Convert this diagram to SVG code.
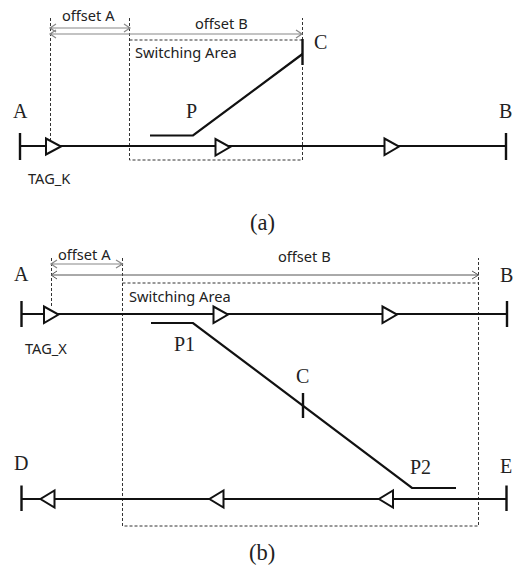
<svg xmlns="http://www.w3.org/2000/svg" width="516" height="566" viewBox="0 0 516 566">
<style>
.t{fill:#fff;stroke:#111;stroke-width:2}
.m{fill:none;stroke:#111;stroke-width:2.2}
.k{fill:none;stroke:#111;stroke-width:2.4}
.d{fill:none;stroke:#333;stroke-width:1;stroke-dasharray:3 2}
.a{fill:none;stroke:#888;stroke-width:1.2}
.b{fill:none;stroke:#555;stroke-width:1}
.s{font-family:"Noto Sans","Open Sans",sans-serif;font-size:14.6px;fill:#222}
.r{font-family:"Liberation Serif",serif;font-size:20px;fill:#222}
.c{font-family:"Liberation Serif",serif;font-size:22.500px;fill:#222}
</style>
<rect width="516" height="566" fill="#fff"/>
<g id="connectors">
<path class="d" d="M50.500 18V140M129.500 18V160H302.500V18M129.500 40H302.500"/>
<path class="a" d="M50 28H130M56 24L50 28L56 32M124 24L130 28L124 32"/>
<path class="a" d="M50 34H302M56 30L50 34L56 38M296 30L302 34L296 38"/>
<path class="m" d="M20 146H506"/>
<path class="m" d="M150 135.500H193L302.500 54"/>
<path class="d" d="M51.500 258V308M122.500 258V526H478.500V258M122.500 283H478.500"/>
<path class="a" d="M51 264H122.500M57 260L51 264L57 268M116 260L122.500 264L116 268"/>
<path class="b" d="M51 275H478.500M57 271L51 275L57 279M472 271L478.500 275L472 279"/>
<path class="m" d="M21.500 314H507"/>
<path class="m" d="M151 323H193L412 488H456"/>
<path class="m" d="M21.500 499H506.500"/>
</g>
<g id="node-a-top"><path class="k" d="M20 133V160"/><text class="r" x="13" y="118">A</text></g>
<g id="node-b-top"><path class="k" d="M506 133V160"/><text class="r" x="499" y="118">B</text></g>
<g id="node-c-top"><path class="k" d="M302.500 39V65"/><text class="r" x="314" y="49">C</text></g>
<g id="node-p"><text class="r" x="186" y="118">P</text></g>
<g id="tags-top">
<path class="t" d="M46 138.500V154.500L61 146.500Z"/>
<path class="t" d="M215.500 139V155.500L230 147Z"/>
<path class="t" d="M384.500 138.500V155L399 146.500Z"/>
<text class="s" x="28" y="184">TAG_K</text>
</g>
<g id="labels-top">
<text class="s" x="62" y="21">offset A</text>
<text class="s" x="195" y="29">offset B</text>
<text class="s" x="135" y="58">Switching Area</text>
<text class="c" x="250" y="230">(a)</text>
</g>
<g id="node-a-bottom"><path class="k" d="M21.500 301V327"/><text class="r" x="14" y="281">A</text></g>
<g id="node-b-bottom"><path class="k" d="M507 301V327"/><text class="r" x="500" y="282">B</text></g>
<g id="node-c-bottom"><path class="k" d="M303 393V418"/><text class="r" x="296" y="383">C</text></g>
<g id="node-p1"><text class="r" x="174" y="351">P1</text></g>
<g id="node-p2"><text class="r" x="410" y="474">P2</text></g>
<g id="node-d"><path class="k" d="M21.500 485.500V511"/><text class="r" x="14" y="470">D</text></g>
<g id="node-e"><path class="k" d="M506.500 485.500V511"/><text class="r" x="500" y="473">E</text></g>
<g id="tags-bottom">
<path class="t" d="M44 306.500V323L58.500 314.500Z"/>
<path class="t" d="M213.500 306.500V323L228 314.500Z"/>
<path class="t" d="M382.500 306.500V323L397 314.500Z"/>
<path class="t" d="M54.500 490.500V507.500L40.500 499Z"/>
<path class="t" d="M223.500 490.500V507.500L209.500 499Z"/>
<path class="t" d="M393 490.500V507.500L379 499Z"/>
<text class="s" x="25" y="354">TAG_X</text>
</g>
<g id="labels-bottom">
<text class="s" x="58" y="260">offset A</text>
<text class="s" x="278" y="262">offset B</text>
<text class="s" x="129" y="302">Switching Area</text>
<text class="c" x="249" y="560">(b)</text>
</g>
</svg>
